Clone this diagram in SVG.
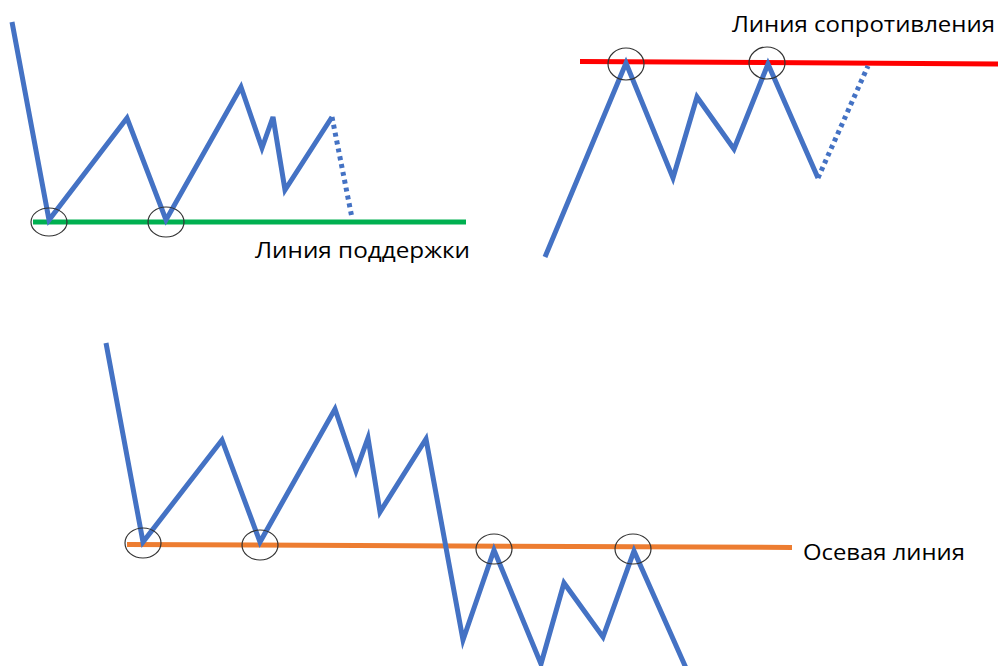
<svg xmlns="http://www.w3.org/2000/svg" width="998" height="666" viewBox="0 0 998 666">
<style>
.price{fill:none;stroke:#4472C4;stroke-width:5;stroke-linejoin:miter;stroke-linecap:butt}
.dot{fill:none;stroke:#4472C4;stroke-width:5;stroke-dasharray:4 4}
.mark{fill:none;stroke:#333;stroke-width:1.2}
.lbl{font-family:"Open Sans","Noto Sans","Liberation Sans",sans-serif;font-size:22px;fill:#000}
</style>
<rect width="998" height="666" fill="#fff"/>
<g id="connectors">
<line x1="33" y1="222" x2="466" y2="222" stroke="#00B050" stroke-width="5"/>
<line x1="580" y1="61.5" x2="998" y2="64" stroke="#FF0000" stroke-width="5"/>
<line x1="127" y1="544.5" x2="792" y2="547.5" stroke="#ED7D31" stroke-width="5"/>
</g>
<g id="support-chart">
<polyline class="price" points="12,22 49,220 127,118 166,220 241,87 262,148 273,117 285,190 332,117"/>
<polyline class="dot" points="332,117 352,218"/>
<ellipse class="mark" cx="49" cy="222" rx="18" ry="14"/>
<ellipse class="mark" cx="166" cy="222" rx="18" ry="15"/>
<text class="lbl" x="255" y="258" textLength="215" lengthAdjust="spacingAndGlyphs">Линия поддержки</text>
</g>
<g id="resistance-chart">
<polyline class="price" points="545,257 626,63 673,178 697,97 734,149 768,64 818,178"/>
<polyline class="dot" points="818,178 868,66"/>
<ellipse class="mark" cx="626" cy="64" rx="18" ry="16"/>
<ellipse class="mark" cx="767" cy="63" rx="18" ry="16"/>
<text class="lbl" x="732" y="32" textLength="263" lengthAdjust="spacingAndGlyphs">Линия сопротивления</text>
</g>
<g id="pivot-chart">
<polyline class="price" points="106,343 143,542 222,440 260,542 335,409 356,471 368,438 380,512 426,439 463,640 494,550 541,664 564,583 603,637 634,551 686,668"/>
<ellipse class="mark" cx="143" cy="543" rx="18" ry="15"/>
<ellipse class="mark" cx="260" cy="545" rx="18" ry="15"/>
<ellipse class="mark" cx="494" cy="549" rx="18" ry="15"/>
<ellipse class="mark" cx="633" cy="549" rx="18" ry="15"/>
<text class="lbl" x="803" y="560" textLength="162" lengthAdjust="spacingAndGlyphs">Осевая линия</text>
</g>
</svg>
